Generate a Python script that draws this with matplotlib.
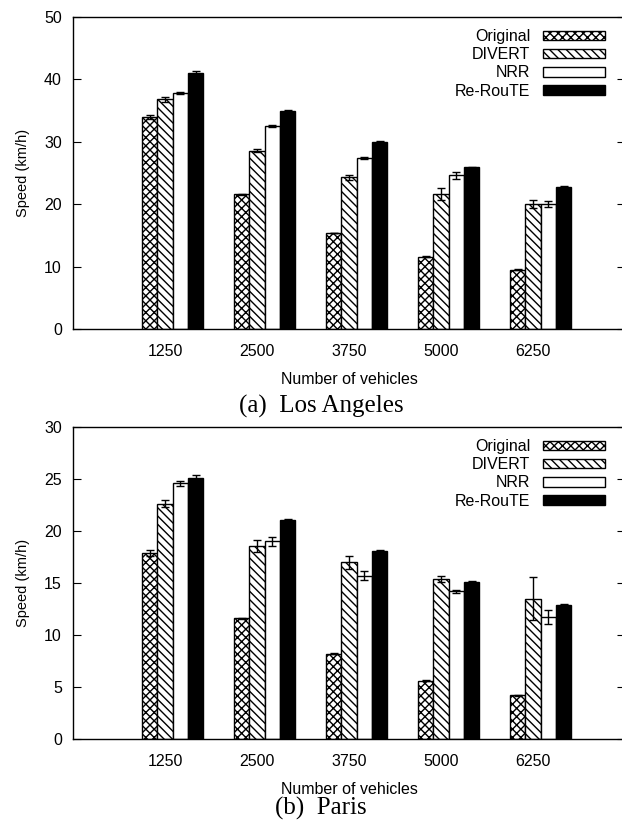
import matplotlib
matplotlib.use("Agg")
import matplotlib.pyplot as plt
import numpy as np

plt.rcParams['font.family'] = ['Liberation Sans', 'DejaVu Sans']
plt.rcParams['hatch.linewidth'] = 1.0

vehicles = ["1250", "2500", "3750", "5000", "6250"]
methods = ["Original", "DIVERT", "NRR", "Re-RouTE"]

# Los Angeles speeds (km/h) and error bars
la_original = [34.0, 21.6, 15.4, 11.6, 9.5]
la_divert = [36.8, 28.6, 24.3, 21.6, 20.0]
la_nrr = [37.8, 32.5, 27.4, 24.6, 20.0]
la_reroute = [41.1, 34.9, 30.0, 25.9, 22.8]
la_original_err = [0.3, 0.1, 0.05, 0.05, 0.05]
la_divert_err = [0.4, 0.25, 0.4, 0.95, 0.65]
la_nrr_err = [0.15, 0.15, 0.15, 0.6, 0.45]
la_reroute_err = [0.2, 0.2, 0.1, 0.05, 0.05]

# Paris speeds (km/h) and error bars
pa_original = [17.9, 11.6, 8.2, 5.6, 4.2]
pa_divert = [22.6, 18.6, 17.0, 15.4, 13.5]
pa_nrr = [24.6, 19.0, 15.7, 14.2, 11.7]
pa_reroute = [25.1, 21.1, 18.1, 15.1, 12.9]
pa_original_err = [0.27, 0.05, 0.05, 0.05, 0.05]
pa_divert_err = [0.34, 0.58, 0.63, 0.26, 2.05]
pa_nrr_err = [0.25, 0.4, 0.41, 0.15, 0.67]
pa_reroute_err = [0.27, 0.05, 0.05, 0.05, 0.05]

styles = [
    dict(facecolor="white", hatch="xxxx"),
    dict(facecolor="white", hatch="\\\\\\\\"),
    dict(facecolor="white", hatch=""),
    dict(facecolor="black", hatch=""),
]

fig = plt.figure(figsize=(6.22, 8.21), dpi=100)
W, H = 622.0, 821.0
FS = 11.5


def draw_panel(ax, series, errors, ymax, ystep, caption, cap_y):
    x = np.arange(len(vehicles))
    w = 1.0 / 6
    for i, (vals, errs, st) in enumerate(zip(series, errors, styles)):
        pos = x + (i - 1) * w
        ax.bar(pos, vals, width=w, edgecolor="black", linewidth=1.0,
               label=methods[i], zorder=2, **st)
        ax.errorbar(pos, vals, yerr=errs, fmt="none", ecolor="black",
                    elinewidth=1.0, capsize=3, capthick=1.0, zorder=3)
    ax.set_xlim(-1, 5)
    ax.set_ylim(0, ymax)
    ax.set_yticks(np.arange(0, ymax + 1, ystep))
    ax.set_xticks(x)
    ax.set_xticklabels(vehicles)
    ax.tick_params(axis="x", length=0, pad=11, labelsize=FS)
    ax.tick_params(axis="y", direction="in", length=5.5, right=True,
                   labelsize=FS, pad=8)
    for s in ax.spines.values():
        s.set_linewidth(1.0)
    ax.set_ylabel("Speed (km/h)", fontsize=10.5, labelpad=10)
    ax.set_xlabel("Number of vehicles", fontsize=FS, labelpad=9)
    ax.legend(loc="upper right", bbox_to_anchor=(0.979, 0.987),
              frameon=False, markerfirst=False, handlelength=3.9,
              handleheight=0.55, labelspacing=0.2, handletextpad=0.8,
              borderpad=0, fontsize=FS)
    fig.text(321 / W, 1 - cap_y / H, caption, ha="center", va="center",
             fontsize=18, family="Liberation Serif")


ax1 = fig.add_axes([73 / W, 1 - 329 / H, 552 / W, 312 / H])
draw_panel(ax1, [la_original, la_divert, la_nrr, la_reroute],
           [la_original_err, la_divert_err, la_nrr_err, la_reroute_err],
           50, 10, "(a)  Los Angeles", 406)

ax2 = fig.add_axes([73 / W, 1 - 739 / H, 552 / W, 312 / H])
draw_panel(ax2, [pa_original, pa_divert, pa_nrr, pa_reroute],
           [pa_original_err, pa_divert_err, pa_nrr_err, pa_reroute_err],
           30, 5, "(b)  Paris", 808)

fig.savefig("out.png", dpi=100)
